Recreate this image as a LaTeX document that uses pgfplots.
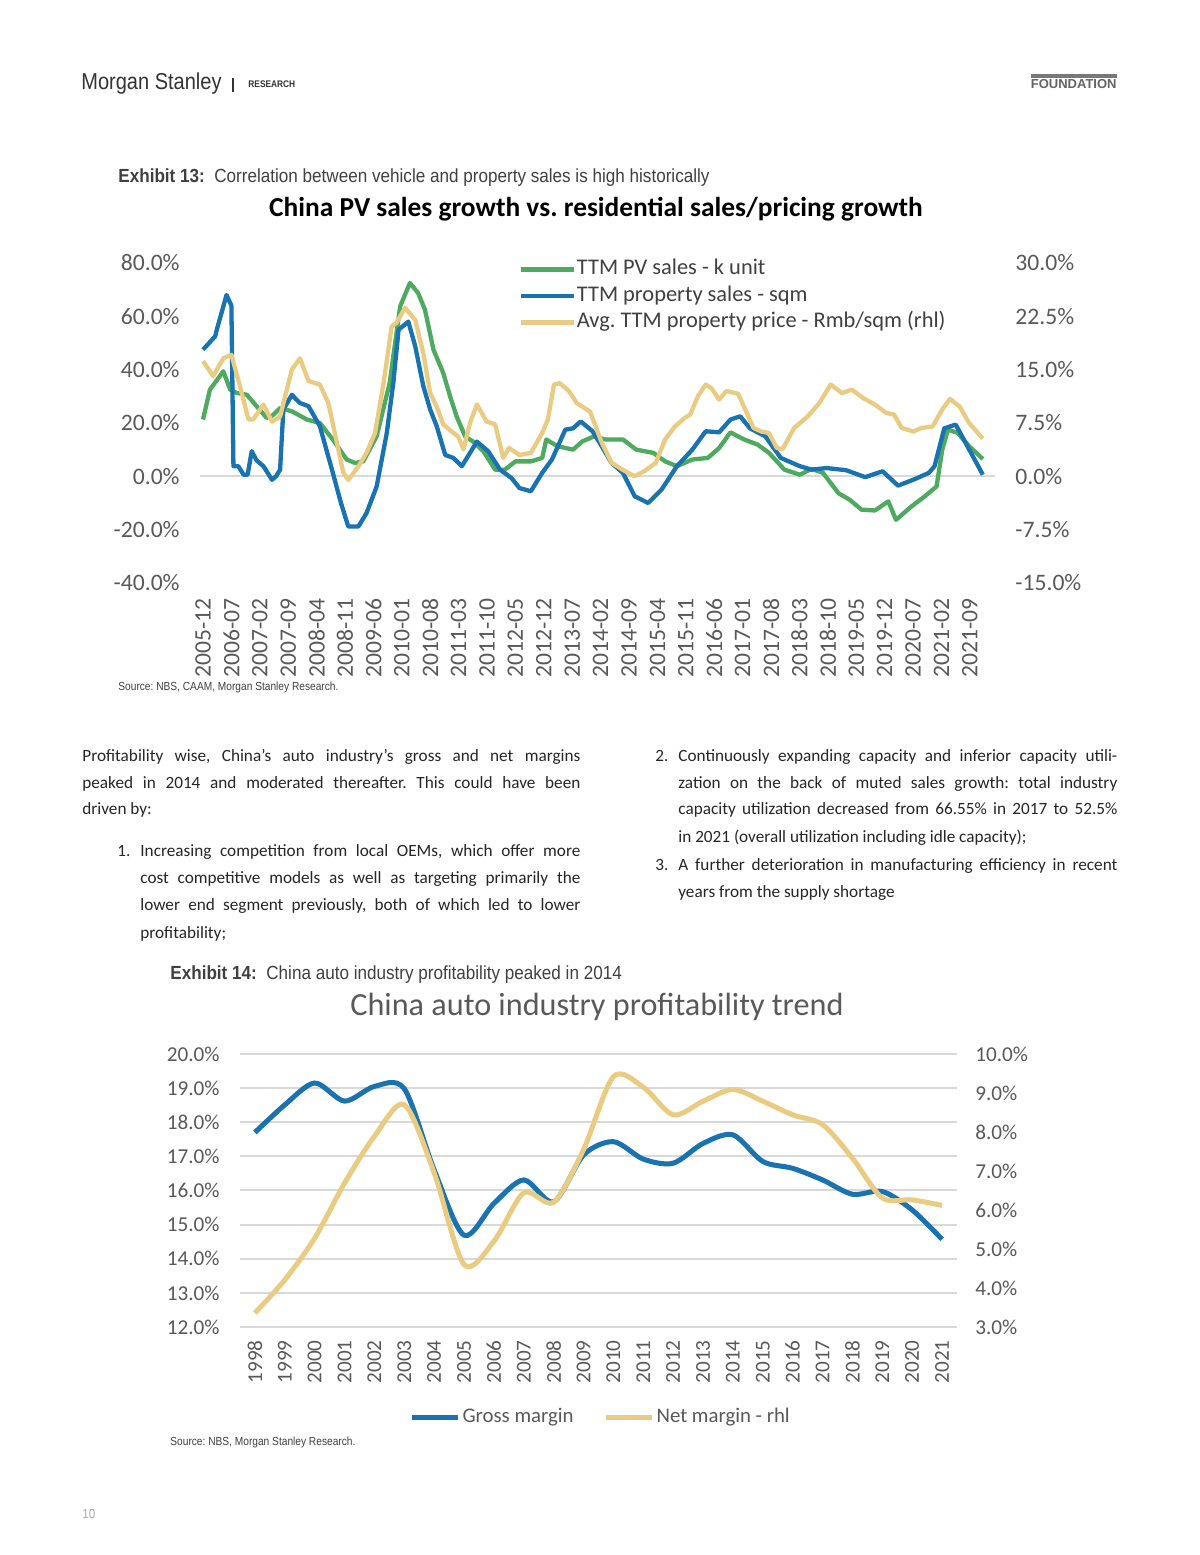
\documentclass[border=0pt]{standalone}
\usepackage{fontspec}
\usepackage{pgfplots}
\pgfplotsset{compat=1.18}
\setmainfont{Carlito}
\newfontfamily\narrow{Liberation Sans}[FakeStretch=0.9]
\newfontfamily\msfont{Liberation Sans}[FakeStretch=0.87]
\newfontfamily\plainsans{Liberation Sans}

\definecolor{pvgreen}{RGB}{78,170,94}
\definecolor{propblue}{RGB}{24,115,176}
\definecolor{priceyel}{RGB}{234,203,130}
\definecolor{tickgray}{RGB}{89,89,89}
\definecolor{linegray}{RGB}{217,217,217}
\definecolor{bodytext}{RGB}{38,38,38}
\definecolor{exgray}{RGB}{64,64,64}
\definecolor{headgray}{RGB}{51,51,51}
\definecolor{bargray}{RGB}{120,120,120}
\definecolor{fndgray}{RGB}{100,100,100}
\definecolor{pagegray}{RGB}{170,170,170}

\newcommand\tickA{\fontsize{11.8pt}{13pt}\selectfont}
\newcommand\tickB{\fontsize{10.6pt}{12pt}\selectfont}
\newcommand\bodyfont{\fontsize{8.6pt}{13pt}\selectfont}
\newcommand\exfont{\narrow\fontsize{9.5pt}{11pt}\selectfont}
\newcommand\srcfont{\msfont\fontsize{5.85pt}{7pt}\selectfont}
% one justified line of body text
\newcommand\bline[4]{\node[anchor=base west,inner sep=0pt,font=\bodyfont,text=bodytext] at (#1,#2) {\makebox[#3][s]{#4}};}
\newcommand\pline[3]{\node[anchor=base west,inner sep=0pt,font=\bodyfont,text=bodytext] at (#1,#2) {#3};}

\pgfplotsset{
  pvline/.style={pvgreen, line width=2.15pt, line join=round},
  propline/.style={propblue, line width=2.15pt, line join=round},
  priceline/.style={priceyel, line width=2.15pt, line join=round},
  pctlabel/.style={yticklabel={\pgfmathprintnumber[fixed,fixed zerofill,precision=1]{\tick}\%}},
}

\begin{document}
\frenchspacing
\begin{tikzpicture}[x=0.5pt,y=0.5pt]
\fill[white] (0,0) rectangle (1200,1555);
\path[use as bounding box] (0,0) rectangle (1200,1555);

% header
\node[anchor=base west,inner sep=0pt,text=headgray,font=\msfont\fontsize{11.5pt}{13pt}\selectfont] at (81,1465) {Morgan Stanley};
\draw[line width=0.6pt,headgray] (233,1463) -- (233,1477);
\node[anchor=base west,inner sep=0pt,text=headgray,font=\msfont\bfseries\fontsize{4.8pt}{6pt}\selectfont] at (248,1467) {RESEARCH};
\fill[bargray] (1031,1477) rectangle (1117,1481);
\node[anchor=base east,inner sep=0pt,text=fndgray,font=\plainsans\bfseries\fontsize{6.5pt}{8pt}\selectfont] at (1117,1466) {FOUNDATION};

% exhibit 13
\node[anchor=base west,inner sep=0pt,text=exgray,font=\exfont] at (118,1372) {\textbf{Exhibit 13:}\ \ Correlation between vehicle and property sales is high historically};
\node[anchor=base,inner sep=0pt,text=black,font=\bfseries\fontsize{13.7pt}{16pt}\selectfont] at (596,1338) {China PV sales growth vs. residential sales/pricing growth};

\begin{axis}[
  at={(100pt,486pt)}, anchor=south west,
  scale only axis, width=397.5pt, height=160pt,
  xmin=-0.74, xmax=195.2, ymin=-40, ymax=80,
  axis line style={draw=none}, major tick length=0pt,
  /pgf/number format/assume math mode=true,
  xtick={0,7,...,189},
  xticklabels={2005-12,2006-07,2007-02,2007-09,2008-04,2008-11,2009-06,2010-01,2010-08,2011-03,2011-10,2012-05,2012-12,2013-07,2014-02,2014-09,2015-04,2015-11,2016-06,2017-01,2017-08,2018-03,2018-10,2019-05,2019-12,2020-07,2021-02,2021-09},
  xticklabel style={rotate=90, anchor=east, font=\tickA, text=tickgray, inner sep=0pt},
  xticklabel shift=7.5pt,
  ytick={-40,-20,0,20,40,60,80},
  pctlabel,
  yticklabel style={font=\tickA, text=tickgray, inner sep=0pt},
  yticklabel shift=10pt,
  extra y ticks={0}, extra y tick labels={},
  extra y tick style={ymajorgrids=true, major grid style={linegray, line width=1pt}},
  clip=false,
]
\addplot[pvline] table {
0 21.3
1.7 32.5
3.4 36
5 39.4
6.7 32.5
8.3 31.3
10.8 30.6
13.2 26.3
15.7 21.9
17.3 23
19 25.6
21.9 24.4
25.6 21.3
28.8 20
32 13.8
35.4 6.3
37.5 5
39.5 5.6
42.8 15
46 35
48.6 63.8
51 72.5
53 68.8
54.7 62.5
56.8 47.5
59.2 38.8
60.9 30
62.5 22.5
64.6 15
66.6 13
69.1 9.4
72 2.5
74.4 2.5
77 5.6
80.8 5.6
83.6 6.9
84.6 13.8
87.4 11.3
91.2 10
93.5 13.1
96.4 15
99.2 13.8
103.5 13.8
106.8 10
111 8.8
113.9 5.6
116.8 3.8
120.6 6.3
124.4 6.9
127.2 10.6
130 16.5
133.4 13.8
136.7 11.9
139.5 8.8
143.3 2.5
147.1 0.6
150 2.8
152.8 1.3
156.6 -6.3
159.4 -8.8
162.3 -12.5
165.6 -12.8
168.9 -9.4
170.8 -16.3
174.6 -11.3
177.9 -7.5
180.8 -3.8
182.2 10
183.6 17.5
186 16.3
188.8 11.3
192.2 6.5
};
\addplot[propline] table {
0 47.5
3 52.5
3.4 55
5.8 68
7 64
7.5 3.8
8.7 3.8
10 0.6
11 0.6
12 9.4
13.2 6
14.9 3.8
17 -1.3
18 0
19 2.5
19.8 25
21.9 30.6
23 28.8
23.9 27.5
26 26.3
28.8 18.8
32 1.3
34 -10
35.8 -18.8
38.3 -18.8
40.3 -13.8
42.8 -3.8
45.3 16.3
46.9 35
48.2 55
50.6 58
52.3 48.8
54.3 33.8
56 25
57.6 18.8
59.7 8
61.7 6.9
63.8 3.8
67.5 13
70.3 9.4
73.2 2.5
76 -0.6
78 -4.4
80.8 -5.6
83.6 1.3
86 6.3
89.3 17.5
91.2 18
93.1 20.6
96 16.9
97.8 12.5
100.7 5
103.5 1.3
106.4 -7.5
109.7 -10
113 -5
116.8 3.8
120.6 10
123.9 16.9
127.2 16.5
130 21.3
132.4 22.5
134.8 18
138.6 15
142.4 6.9
147.1 3.8
150 2.5
153.7 3.1
158.5 2.3
163.2 -0.3
167.5 1.9
171.3 -3.5
175.5 -1
178.9 1.3
180.3 3.8
182.7 18
185.5 19.4
188.4 11.3
192.2 0.6
};
\end{axis}

\begin{axis}[
  at={(100pt,486pt)}, anchor=south west,
  scale only axis, width=397.5pt, height=160pt,
  xmin=-0.74, xmax=195.2, ymin=-15, ymax=30,
  axis line style={draw=none}, major tick length=0pt,
  /pgf/number format/assume math mode=true,
  xtick=\empty,
  ytick={-15,-7.5,0,7.5,15,22.5,30},
  ytick pos=right, yticklabel pos=right,
  pctlabel,
  yticklabel style={font=\tickA, text=tickgray, inner sep=0pt, anchor=west},
  yticklabel shift=10pt,
  clip=false,
  legend image code/.code={\draw[#1] (0pt,0pt) -- (26.5pt,0pt);},
  legend cell align=left,
  legend style={draw=none, fill=none, inner sep=0pt, row sep=3.45pt,
    at={(0.40,1.012)}, anchor=north west,
    font=\fontsize{11.2pt}{13pt}\selectfont, text=exgray,
    nodes={inner xsep=0.6pt, inner ysep=0pt, text height=7.5pt, text depth=2.3pt}},
]
\addlegendimage{pvline}\addlegendentry{TTM PV sales - k unit}
\addlegendimage{propline}\addlegendentry{TTM property sales - sqm}
\addplot[priceline] table {
0 16.2
2.5 14.1
5 16.6
7 17.1
9.1 12.7
11.2 8
12.4 8
14.9 10.1
17 7.7
19 8.4
21.9 15
23.9 16.6
26 13.4
28.8 12.9
30.9 10.3
33 4.7
34.6 0.5
35.8 -0.5
38.3 1.4
40.3 3.3
42.4 6.1
44.5 13.1
46.5 21.1
47.7 21.6
49.8 23.7
52.3 22
54.3 17.3
56 11.7
57.6 9.8
59.2 7.3
61.3 6.3
62.9 5.6
64.2 3.8
65.8 7.5
67.5 10.1
69.9 7.7
72 7.3
74 2.6
75.4 4
78 3
80.8 3.3
83.6 6.1
85 8
86.5 12.9
87.9 13.1
90.2 12
92.1 10.3
95.4 9.1
98.3 4.7
100.7 1.9
103.5 0.9
106.4 0
108.7 0.7
111.6 1.9
113.9 5.2
116.3 7
118.7 8.2
120.1 8.7
122 11.3
123.9 12.9
125.3 12.4
127.2 10.8
129 12
131.9 11.6
135.7 6.8
137.6 6.3
139.5 6.1
141.4 4
142.8 3.8
145.7 6.8
149 8.4
151.9 10.3
154.7 12.9
157.5 11.7
159.9 12.2
162.7 11
165.6 10.1
168.4 8.9
170.3 8.7
172.2 6.8
175.1 6.3
177 6.8
179.8 7
182.2 9.4
184.1 10.9
186.5 9.8
188.8 7.5
192.2 5.3
};
\addlegendentry{Avg. TTM property price - Rmb/sqm (rhl)}
\end{axis}

\node[anchor=base west,inner sep=0pt,text=exgray,font=\srcfont] at (118,864) {Source: NBS, CAAM, Morgan Stanley Research.};

% body text, left column
\bline{82}{793}{249pt}{Profitability wise, China’s auto industry’s gross and net margins}
\bline{82}{766}{249pt}{peaked in 2014 and moderated thereafter. This could have been}
\pline{82}{740}{driven by:}
\pline{117}{698}{1.}
\bline{140}{698}{220pt}{Increasing competition from local OEMs, which offer more}
\bline{140}{671}{220pt}{cost competitive models as well as targeting primarily the}
\bline{140}{644}{220pt}{lower end segment previously, both of which led to lower}
\pline{140}{616}{profitability;}
% right column
\pline{655}{793}{2.}
\bline{678}{793}{219.5pt}{Continuously expanding capacity and inferior capacity utili-}
\bline{678}{766}{219.5pt}{zation on the back of muted sales growth: total industry}
\bline{678}{740}{219.5pt}{capacity utilization decreased from 66.55\% in 2017 to 52.5\%}
\pline{678}{712}{in 2021 (overall utilization including idle capacity);}
\pline{655}{684}{3.}
\bline{678}{684}{219.5pt}{A further deterioration in manufacturing efficiency in recent}
\pline{678}{657}{years from the supply shortage}

% exhibit 14
\node[anchor=base west,inner sep=0pt,text=exgray,font=\exfont] at (170,575) {\textbf{Exhibit 14:}\ \ China auto industry profitability peaked in 2014};
\node[anchor=base,inner sep=0pt,text=tickgray,font=\fontsize{16.1pt}{18pt}\selectfont] at (597,539) {China auto industry profitability trend};

\begin{axis}[
  at={(120pt,114pt)}, anchor=south west,
  scale only axis, width=358.5pt, height=136.5pt,
  xmin=1997.5, xmax=2021.5, ymin=12, ymax=20,
  axis line style={draw=none}, major tick length=0pt,
  /pgf/number format/assume math mode=true,
  ymajorgrids, major grid style={linegray, line width=1pt},
  xtick={1998,1999,...,2021},
  xticklabels={1998,1999,2000,2001,2002,2003,2004,2005,2006,2007,2008,2009,2010,2011,2012,2013,2014,2015,2016,2017,2018,2019,2020,2021},
  xticklabel style={rotate=90, anchor=east, font=\tickB, text=tickgray, inner sep=0pt},
  xticklabel shift=6.5pt,
  ytick={12,13,...,20},
  pctlabel,
  yticklabel style={font=\tickB, text=tickgray, inner sep=0pt},
  yticklabel shift=10pt,
  clip=false,
]
\addplot[propblue, line width=2.5pt, smooth] table {
1998 17.70
1999 18.51
2000 19.15
2001 18.62
2002 19.05
2003 18.98
2004 16.60
2005 14.69
2006 15.62
2007 16.31
2008 15.67
2009 17.04
2010 17.43
2011 16.92
2012 16.80
2013 17.38
2014 17.63
2015 16.85
2016 16.65
2017 16.31
2018 15.89
2019 15.97
2020 15.43
2021 14.57
};
\end{axis}

\begin{axis}[
  at={(120pt,114pt)}, anchor=south west,
  scale only axis, width=358.5pt, height=136.5pt,
  xmin=1997.5, xmax=2021.5, ymin=3, ymax=10,
  axis line style={draw=none}, major tick length=0pt,
  /pgf/number format/assume math mode=true,
  xtick=\empty,
  ytick={3,4,...,10},
  ytick pos=right, yticklabel pos=right,
  pctlabel,
  yticklabel style={font=\tickB, text=tickgray, inner sep=0pt, anchor=west},
  yticklabel shift=9pt,
  clip=false,
  legend image code/.code={\draw[#1] (0pt,0pt) -- (23pt,0pt);},
  legend columns=2,
  legend style={draw=none, fill=none, inner sep=0pt,
    at={(0.503,-0.33)}, anchor=center,
    font=\fontsize{10.4pt}{12pt}\selectfont, text=tickgray,
    nodes={inner xsep=1pt, inner ysep=0pt, text height=7pt, text depth=2pt},
    /tikz/every even column/.append style={column sep=14pt}},
]
\addlegendimage{propblue, line width=2.5pt}\addlegendentry{Gross margin}
\addplot[priceyel, line width=2.5pt, smooth] table {
1998 3.36
1999 4.21
2000 5.28
2001 6.69
2002 7.89
2003 8.70
2004 6.95
2005 4.60
2006 5.20
2007 6.44
2008 6.20
2009 7.55
2010 9.42
2011 9.15
2012 8.44
2013 8.79
2014 9.09
2015 8.79
2016 8.44
2017 8.19
2018 7.33
2019 6.31
2020 6.26
2021 6.12
};
\addlegendentry{Net margin - rhl}
\end{axis}

\node[anchor=base west,inner sep=0pt,text=exgray,font=\srcfont] at (170,109) {Source: NBS, Morgan Stanley Research.};
\node[anchor=base west,inner sep=0pt,text=pagegray,font=\narrow\fontsize{6.5pt}{8pt}\selectfont] at (82,36) {10};
\end{tikzpicture}
\end{document}
